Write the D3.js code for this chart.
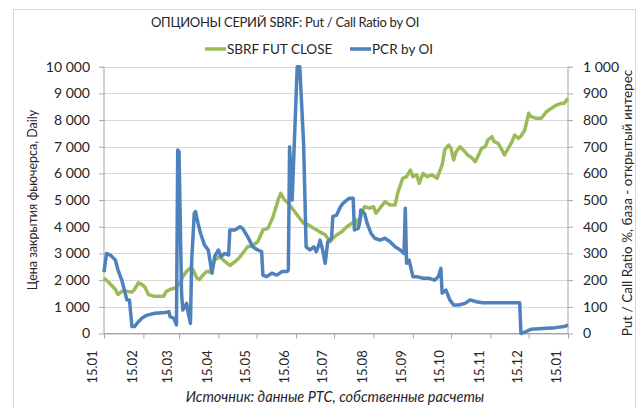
<!DOCTYPE html>
<html><head><meta charset="utf-8">
<script src="https://cdn.jsdelivr.net/npm/d3@7"></script>
<style>
html,body{margin:0;padding:0;background:#fff;}
text{font-family:Lato,"Liberation Sans",sans-serif;fill:#262626;}
</style></head>
<body><svg id="c" width="643" height="408"></svg>
<script>
// ---- data ----
const titleText = "ОПЦИОНЫ СЕРИЙ SBRF: Put / Call Ratio by OI";
const seriesNames = ["SBRF FUT CLOSE", "PCR by OI"];
const leftAxisTitle = "Цена закрытия фьючерса, Daily";
const rightAxisTitle = "Put / Call Ratio %, база - открытый интерес";
const sourceText = "Источник: данные РТС, собственные расчеты";
const xTickDates = ["2015-01-15","2015-02-15","2015-03-15","2015-04-15","2015-05-15","2015-06-15","2015-07-15","2015-08-15","2015-09-15","2015-10-15","2015-11-15","2015-12-15","2016-01-15"];
const leftTicks = [0,1000,2000,3000,4000,5000,6000,7000,8000,9000,10000];
const rightTicks = [0,100,200,300,400,500,600,700,800,900,1000];

const futDates = ["2015-01-15","2015-01-19","2015-01-24","2015-01-26","2015-01-29","2015-02-02","2015-02-06","2015-02-08","2015-02-11","2015-02-14","2015-02-16","2015-02-19","2015-02-23","2015-02-28","2015-03-03","2015-03-05","2015-03-08","2015-03-12","2015-03-16","2015-03-18","2015-03-21","2015-03-24","2015-03-26","2015-03-29","2015-03-31","2015-04-03","2015-04-06","2015-04-08","2015-04-11","2015-04-12","2015-04-16","2015-04-20","2015-04-24","2015-04-28","2015-05-01","2015-05-05","2015-05-08","2015-05-12","2015-05-16","2015-05-20","2015-05-24","2015-05-28","2015-06-01","2015-06-03","2015-06-06","2015-06-09","2015-06-13","2015-06-17","2015-06-21","2015-06-25","2015-06-29","2015-07-04","2015-07-08","2015-07-10","2015-07-12","2015-07-14","2015-07-17","2015-07-21","2015-07-25","2015-07-29","2015-08-02","2015-08-03","2015-08-06","2015-08-08","2015-08-12","2015-08-15","2015-08-17","2015-08-21","2015-08-24","2015-08-28","2015-09-01","2015-09-03","2015-09-07","2015-09-10","2015-09-13","2015-09-15","2015-09-18","2015-09-20","2015-09-23","2015-09-26","2015-09-30","2015-10-04","2015-10-08","2015-10-10","2015-10-13","2015-10-15","2015-10-17","2015-10-19","2015-10-22","2015-10-26","2015-10-28","2015-10-31","2015-11-03","2015-11-05","2015-11-08","2015-11-11","2015-11-13","2015-11-16","2015-11-18","2015-11-21","2015-11-24","2015-11-26","2015-11-29","2015-12-02","2015-12-04","2015-12-07","2015-12-09","2015-12-12","2015-12-15","2015-12-17","2015-12-21","2015-12-25","2015-12-29","2016-01-02","2016-01-06","2016-01-10","2016-01-12","2016-01-15"];
const futClose = [2080,1900,1650,1460,1580,1580,1550,1650,1900,1830,1750,1460,1400,1400,1400,1580,1650,1710,1900,2140,2330,2460,2390,2080,2020,2200,2330,2300,2600,2755,2878,2700,2550,2690,2818,3066,3253,3300,3441,3879,3941,4378,5004,5255,5004,4880,4629,4378,4130,4066,3941,3800,3700,3568,3441,3568,3692,3816,4003,4130,4254,4000,4565,4753,4700,4753,4505,4753,4940,4816,4816,5255,5817,5877,6128,5877,5950,5630,6004,5877,5941,5817,6316,6878,7065,6941,6503,6814,7001,6814,6690,6600,6440,6627,6941,7001,7253,7376,7189,7128,6878,6690,6941,7189,7440,7316,7400,7627,8253,8126,8066,8066,8313,8441,8565,8627,8627,8816];

const pcrDates = ["2015-01-15","2015-01-17","2015-01-20","2015-01-24","2015-01-26","2015-01-29","2015-01-31","2015-02-02","2015-02-04","2015-02-06","2015-02-08","2015-02-11","2015-02-14","2015-02-18","2015-02-24","2015-03-04","2015-03-07","2015-03-08","2015-03-11","2015-03-13","2015-03-14","2015-03-15","2015-03-17","2015-03-18","2015-03-21","2015-03-22","2015-03-24","2015-03-25","2015-03-27","2015-03-28","2015-03-30","2015-04-01","2015-04-04","2015-04-07","2015-04-10","2015-04-12","2015-04-15","2015-04-17","2015-04-20","2015-04-23","2015-04-24","2015-04-28","2015-05-02","2015-05-04","2015-05-08","2015-05-12","2015-05-16","2015-05-19","2015-05-20","2015-05-23","2015-05-27","2015-05-31","2015-06-04","2015-06-08","2015-06-09","2015-06-10","2015-06-12","2015-06-16","2015-06-18","2015-06-21","2015-06-23","2015-06-26","2015-06-29","2015-07-01","2015-07-03","2015-07-04","2015-07-06","2015-07-08","2015-07-10","2015-07-13","2015-07-14","2015-07-17","2015-07-20","2015-07-22","2015-07-25","2015-07-27","2015-07-30","2015-07-31","2015-08-03","2015-08-04","2015-08-05","2015-08-08","2015-08-10","2015-08-13","2015-08-16","2015-08-20","2015-08-24","2015-08-28","2015-09-01","2015-09-05","2015-09-08","2015-09-09","2015-09-10","2015-09-12","2015-09-15","2015-09-18","2015-09-23","2015-09-28","2015-10-02","2015-10-05","2015-10-07","2015-10-08","2015-10-11","2015-10-14","2015-10-17","2015-10-21","2015-10-26","2015-10-30","2015-11-04","2015-11-09","2015-11-20","2015-11-30","2015-12-08","2015-12-09","2015-12-13","2015-12-17","2015-12-26","2016-01-05","2016-01-12","2016-01-15"];
const pcrValues = [230,300,294,275,238,200,163,126,126,26,26,44,58,69,76,79,82,63,57,32,688,681,151,88,113,82,38,275,450,457,413,375,332,313,226,288,313,288,300,294,388,388,400,394,363,325,313,307,219,213,226,219,232,232,238,700,500,1000,1000,713,325,313,325,307,332,350,313,263,344,357,438,444,475,488,500,507,507,388,394,413,463,450,413,376,357,350,357,344,325,313,300,469,263,275,213,213,207,207,200,213,244,151,163,126,107,107,113,126,119,115,115,115,115,0,7,16,19,22,26,32];

// ---- chart ----
const parse = d3.timeParse("%Y-%m-%d");
const fmtTick = d3.timeFormat("%d.%m");
const svg = d3.select("#c");
const m = {left:104, right:568, top:66.7, bottom:333.5};
const colors = ["#9BBB59", "#4F81BD"];

svg.append("rect").attr("x",13.5).attr("y",9.5).attr("width",622).attr("height",400)
  .attr("fill","#fff").attr("stroke","#d9d9d9");

const x = d3.scaleTime().domain([parse(xTickDates[0]), parse(xTickDates[xTickDates.length-1])]).range([m.left, m.right]);
const yL = d3.scaleLinear().domain([0,10000]).range([m.bottom, m.top]);
const yR = d3.scaleLinear().domain([0,1000]).range([m.bottom, m.top]);

const fmtNum = v => d3.format(",")(v).replace(/,/g, " ");

// gridlines
svg.append("g").selectAll("line").data(leftTicks).join("line")
  .attr("x1",m.left).attr("x2",m.right)
  .attr("y1",d=>Math.round(yL(d))+0.5).attr("y2",d=>Math.round(yL(d))+0.5)
  .attr("stroke","#d9d9d9").attr("stroke-width",1);

const gL = svg.append("g").attr("transform",`translate(${m.left},0)`)
  .call(d3.axisLeft(yL).tickValues(leftTicks).tickSize(5).tickPadding(9).tickFormat(fmtNum));
const gR = svg.append("g").attr("transform",`translate(${m.right},0)`)
  .call(d3.axisRight(yR).tickValues(rightTicks).tickSize(5).tickPadding(10).tickFormat(fmtNum));
const gB = svg.append("g").attr("transform",`translate(0,${m.bottom})`)
  .call(d3.axisBottom(x).tickValues(xTickDates.map(parse)).tickSize(5).tickPadding(4).tickFormat(fmtTick));
gB.selectAll("text").attr("transform","rotate(-90)").attr("text-anchor","end")
  .attr("dx","-0.6em").attr("dy","-0.55em").attr("y",0).attr("x",-9);

[gL,gR,gB].forEach(g=>{
  g.select(".domain").attr("stroke","#a6a6a6");
  g.selectAll(".tick line").attr("stroke","#a6a6a6");
  g.selectAll("text").style("font-family","Lato, sans-serif").style("font-size","14px").attr("fill","#262626");
});
gB.selectAll("text").style("font-size","13px");
gL.select(".domain").attr("d",`M0,${m.top}V${m.bottom}`);
gR.select(".domain").attr("d",`M0,${m.top}V${m.bottom}`);
gB.select(".domain").attr("d",`M${m.left},0H${m.right}`);

const fut = futDates.map((d,i)=>({d:parse(d), v:futClose[i]}));
const pcr = pcrDates.map((d,i)=>({d:parse(d), v:pcrValues[i]}));
svg.append("path").datum(fut).attr("fill","none").attr("stroke",colors[0]).attr("stroke-width",3.5)
  .attr("stroke-linejoin","round").attr("d",d3.line().x(d=>x(d.d)).y(d=>yL(d.v)));
svg.append("path").datum(pcr).attr("fill","none").attr("stroke",colors[1]).attr("stroke-width",3.5)
  .attr("stroke-linejoin","round").attr("d",d3.line().x(d=>x(d.d)).y(d=>yR(d.v)));

svg.append("text").attr("x",285).attr("y",27).attr("text-anchor","middle")
  .style("font-size","13px").style("letter-spacing","-0.3px").text(titleText);

const leg = svg.append("g");
const legX = [205, 350];
seriesNames.forEach((n,i)=>{
  leg.append("line").attr("x1",legX[i]).attr("x2",legX[i]+21).attr("y1",49).attr("y2",49)
    .attr("stroke",colors[i]).attr("stroke-width",3.5);
  leg.append("text").attr("x",legX[i]+22).attr("y",54).style("font-size","13.5px").text(n);
});

svg.append("text").attr("transform","translate(37,200) rotate(-90)").attr("text-anchor","middle")
  .style("font-size","12.5px").text(leftAxisTitle);
svg.append("text").attr("transform","translate(632,203) rotate(-90)").attr("text-anchor","middle")
  .style("font-size","13.5px").text(rightAxisTitle);

svg.append("text").attr("x",335).attr("y",402).attr("text-anchor","middle")
  .style("font-size","14.5px").style("font-style","italic").text(sourceText);
</script></body></html>
